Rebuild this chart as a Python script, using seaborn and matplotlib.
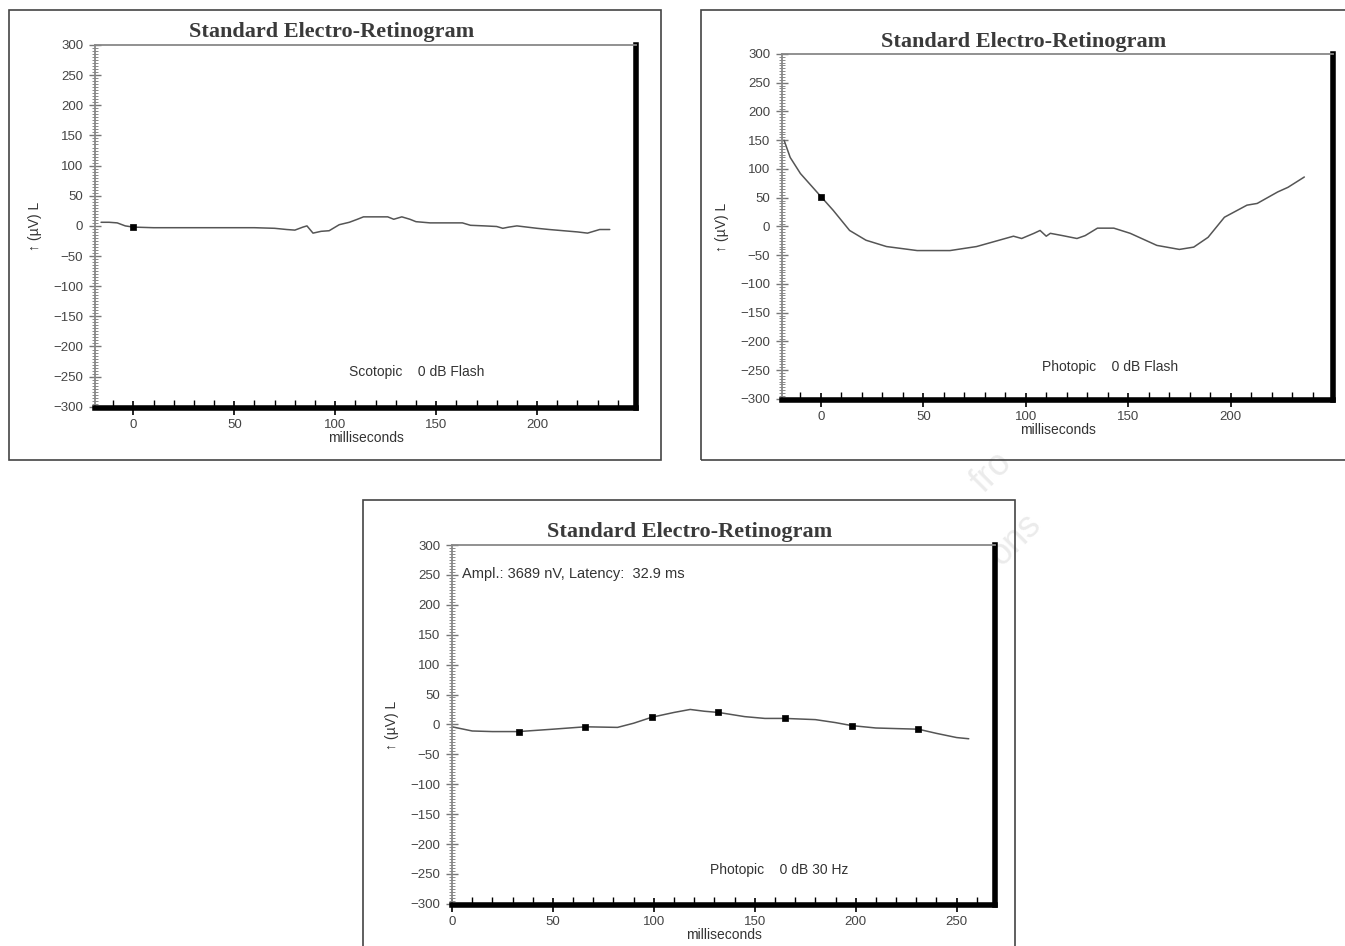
import numpy as np
import pandas as pd
import seaborn as sns
import matplotlib.pyplot as plt
from matplotlib.patches import Rectangle
from matplotlib.ticker import MultipleLocator, FixedLocator

t_scot = [-16, -12, -8, -4, 0, 10, 20, 30, 40, 50, 60, 70, 76, 80, 84, 86, 89, 93, 97, 102,
          107, 111, 114, 120, 126, 129, 133, 137, 140, 147, 155, 163, 167, 174, 180, 183, 186,
          190, 195, 200, 206, 213, 220, 225, 228, 231, 236]
v_scot = [6, 6, 5, 0, -2, -3, -3, -3, -3, -3, -3, -4, -6, -7, -2, 0, -12, -9, -8, 2,
          6, 11, 15, 15, 15, 11, 15, 11, 7, 5, 5, 5, 1, 0, -1, -4, -2,
          0, -2, -4, -6, -8, -10, -12, -9, -6, -6]
mark_scot = [0]

t_phot = [-18, -15, -10, -4, 0, 6, 14, 22, 32, 47, 63, 76, 87, 94, 98, 104, 107, 110, 112, 118,
          125, 129, 135, 143, 151, 164, 175, 182, 189, 197, 208, 213, 223, 228, 236]
v_phot = [150, 120, 92, 68, 52, 28, -7, -24, -35, -42, -42, -35, -24, -17, -21, -12, -7, -17, -12, -16,
          -21, -16, -3, -3, -12, -33, -40, -36, -19, 16, 37, 40, 60, 68, 86]
mark_phot = [0]

t_flick = [0, 10, 20, 33, 50, 66, 82, 90, 99, 110, 118, 125, 132, 145, 155, 165, 180, 190, 198,
           210, 220, 231, 240, 250, 256]
v_flick = [-4, -11, -12, -12, -8, -4, -5, 2, 12, 20, 25, 22, 20, 13, 10, 10, 8, 3, -2,
           -6, -7, -8, -15, -22, -24]
mark_flick = [33, 66, 99, 132, 165, 198, 231]

xt_flash = [0, 50, 100, 150, 200]
xt_flick = [0, 50, 100, 150, 200, 250]

titulo = "Standard Electro-Retinogram"
etiqueta_y = "↑ (µV) L"
etiqueta_x = "milliseconds"

sns.set_style("white")
plt.rcParams['font.family'] = ['Liberation Sans', 'DejaVu Sans']

W, H = 1345, 946
fig = plt.figure(figsize=(W / 100, H / 100), dpi=100)


def px_axes(x0, y0, x1, y1):
    return fig.add_axes([x0 / W, 1 - y1 / H, (x1 - x0) / W, (y1 - y0) / H])


def marco(x0, y0, x1, y1):
    fig.patches.append(Rectangle((x0 / W, 1 - y1 / H), (x1 - x0) / W, (y1 - y0) / H,
                                 transform=fig.transFigure, fill=False, lw=1.2,
                                 edgecolor='#444444', zorder=0))


def panel(ax, t, v, marcas, xlim, xticks, minor_max, nota, nota_xy, extra=None):
    df = pd.DataFrame({'t': t, 'v': v})
    sns.lineplot(data=df, x='t', y='v', ax=ax, color='#555555', lw=1.1, sort=False)
    dm = df[df['t'].isin(marcas)]
    sns.scatterplot(data=dm, x='t', y='v', ax=ax, color='black', marker='s', s=14,
                    edgecolor='black', linewidth=0.5, zorder=5)
    ax.set_xlim(*xlim)
    ax.set_ylim(-302, 300)
    ax.xaxis.set_major_locator(FixedLocator(xticks))
    ax.xaxis.set_minor_locator(FixedLocator(list(range(-10, minor_max + 1, 10))))
    ax.yaxis.set_major_locator(MultipleLocator(50))
    ax.yaxis.set_minor_locator(MultipleLocator(5))
    for s in ['top', 'left']:
        ax.spines[s].set_color('#888888')
        ax.spines[s].set_linewidth(1.3)
    for s in ['right', 'bottom']:
        ax.spines[s].set_color('black')
        ax.spines[s].set_linewidth(4)
    ax.tick_params(axis='y', which='major', direction='inout', length=9, width=1,
                   color='#777777', labelsize=9.5, labelcolor='#444444', pad=4, left=True)
    ax.tick_params(axis='y', which='minor', direction='inout', length=4, width=0.7,
                   color='#888888', left=True)
    ax.tick_params(axis='x', which='major', direction='inout', length=10, width=1.2,
                   color='black', labelsize=9.5, labelcolor='#444444', pad=3, bottom=True)
    ax.tick_params(axis='x', which='minor', direction='in', length=6, width=1,
                   color='black', bottom=True)
    ax.set_xlabel(etiqueta_x, fontsize=10, color='#333333', labelpad=0)
    ax.set_ylabel(etiqueta_y, fontsize=10, color='#333333', labelpad=8)
    ax.text(0.438, 1.007, titulo, transform=ax.transAxes, ha='center', va='bottom',
            family='Liberation Serif', fontsize=16, fontweight='bold', color='#3a3a3a')
    ax.text(nota_xy[0], nota_xy[1], nota, fontsize=10, color='#333333', va='center')
    if extra:
        ax.text(extra[1][0], extra[1][1], extra[0], fontsize=10.5, color='#333333', va='center')


# marcos exteriores
marco(9, 10, 661, 460)
marco(701, 10, 1360, 460)
marco(363, 500, 1015, 960)

# marca de agua tenue
fig.text(992 / W, 1 - 472 / H, "fro", rotation=45, fontsize=26, color='#ebebeb',
         ha='center', va='center', zorder=-1)
fig.text(1015 / W, 1 - 540 / H, "ons", rotation=45, fontsize=26, color='#ebebeb',
         ha='center', va='center', zorder=-1)

ax1 = px_axes(95, 45, 636, 408)
panel(ax1, t_scot, v_scot, mark_scot, (-19, 249), xt_flash, 240,
      "Scotopic    0 dB Flash", (107, -242))

ax2 = px_axes(782, 54, 1333, 400)
panel(ax2, t_phot, v_phot, mark_phot, (-19, 250), xt_flash, 240,
      "Photopic    0 dB Flash", (108, -244))

ax3 = px_axes(452, 545, 995, 905)
panel(ax3, t_flick, v_flick, mark_flick, (0, 269), xt_flick, 260,
      "Photopic    0 dB 30 Hz", (128, -244),
      extra=("Ampl.: 3689 nV, Latency:  32.9 ms", (5, 251)))

plt.savefig("out.png", dpi=100)
